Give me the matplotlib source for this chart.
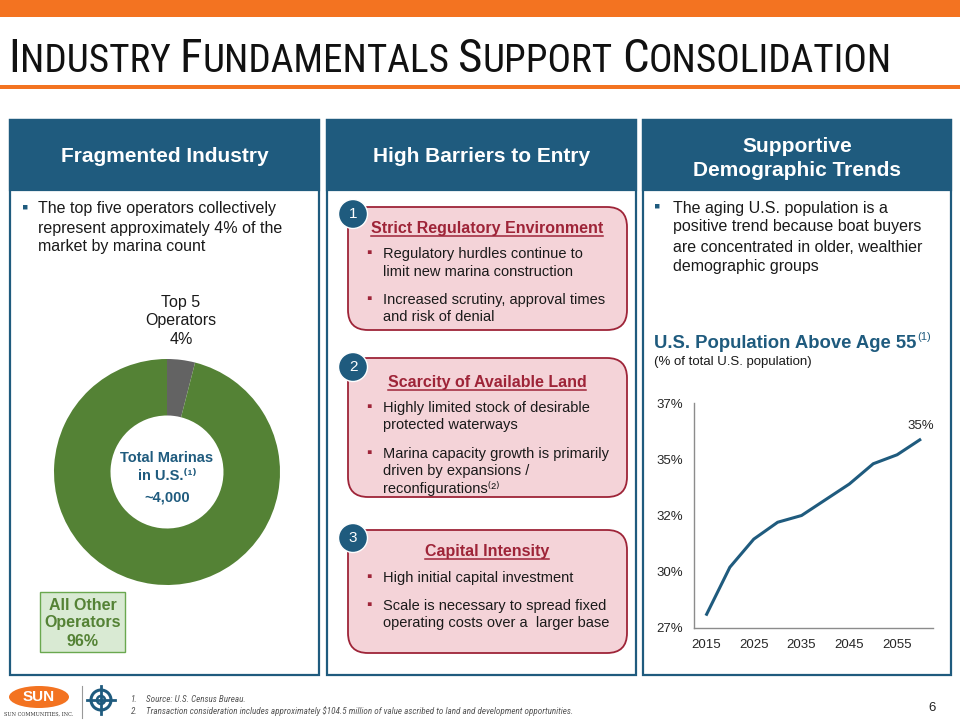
import matplotlib
matplotlib.use('Agg')
import matplotlib.pyplot as plt
from matplotlib.patches import Rectangle, FancyBboxPatch, Circle, Ellipse
from matplotlib import font_manager

# ---------------- data ----------------
donut_labels = ['Top 5 Operators', 'All Other Operators']
donut_values = [4, 96]
total_marinas = '~4,000'

years = [2015, 2020, 2025, 2030, 2035, 2040, 2045, 2050, 2055, 2060]
pop55_share = [28.05, 30.2, 31.45, 32.2, 32.5, 33.2, 33.9, 34.8, 35.2, 35.9]
y_ticks = [27.5, 30, 32.5, 35, 37.5]
y_tick_labels = ['27%', '30%', '32%', '35%', '37%']
x_ticks = [2015, 2025, 2035, 2045, 2055]
end_label = '35%'

# ---------------- fonts ----------------
names = {f.name for f in font_manager.fontManager.ttflist}
SANS = 'Liberation Sans' if 'Liberation Sans' in names else 'DejaVu Sans'
NARROW = SANS
for cand in ['Liberation Sans Narrow', 'Arial Narrow', 'Roboto Condensed', 'Archivo Narrow',
             'PT Sans Narrow', 'Open Sans Condensed', 'Fira Sans Condensed', 'IBM Plex Sans Condensed']:
    if cand in names:
        NARROW = cand
        break
FAM = [SANS, 'DejaVu Sans']
NFAM = [NARROW, 'DejaVu Sans']
plt.rcParams['font.family'] = FAM

BLUE = '#1F5B7E'
ORANGE = '#F37321'
GREEN = '#548235'
GRAY = '#636363'
PINK = '#F4D3D8'
RED = '#9E2438'
TXT = '#1A1A1A'

fig = plt.figure(figsize=(9.6, 7.2), dpi=100)
bg = fig.add_axes([0, 0, 1, 1])
bg.set_xlim(0, 960)
bg.set_ylim(720, 0)
bg.axis('off')
R = fig.canvas.get_renderer()


def width(t):
    return t.get_window_extent(R).width


def lines(x, ys, strs, **kw):
    for y, s in zip(ys, strs):
        bg.text(x, y, s, va='center', **kw)


# ---------------- top bar & title ----------------
bg.add_patch(Rectangle((0, 0), 960, 17, fc=ORANGE, ec='none'))
bg.add_patch(Rectangle((0, 85), 960, 4, fc=ORANGE, ec='none'))


def smallcaps(x, y, text, big, small, color, family):
    objs = []
    cur = x
    a = bg.text(0, -100, 'X X', fontsize=small, family=family)
    b = bg.text(0, -100, 'XX', fontsize=small, family=family)
    sp = width(a) - width(b)
    a.remove(); b.remove()
    for i, w in enumerate(text.split(' ')):
        if i > 0:
            cur += sp
        t1 = bg.text(cur, y, w[0], fontsize=big, family=family, color=color, va='baseline', ha='left')
        objs.append(t1)
        cur += width(t1)
        if len(w) > 1:
            t2 = bg.text(cur, y, w[1:].upper(), fontsize=small, family=family, color=color,
                         va='baseline', ha='left')
            objs.append(t2)
            cur += width(t2)
    return objs, cur - x


TITLE = 'Industry Fundamentals Support Consolidation'
objs, tw = smallcaps(8, 72, TITLE, 31, 26, '#111111', NFAM)
scale = min(1.15, max(0.85, 885 / tw))
if abs(scale - 1) > 0.01:
    for o in objs:
        o.remove()
    objs, tw = smallcaps(8, 72, TITLE, 31 * scale, 26 * scale, '#111111', NFAM)

# ---------------- panels ----------------
panels = [(10, 319), (327, 636), (643, 951)]
for x0, x1 in panels:
    bg.add_patch(Rectangle((x0, 120), x1 - x0, 555, fc='white', ec=BLUE, lw=1.6, zorder=1))
    bg.add_patch(Rectangle((x0, 120), x1 - x0, 70, fc=BLUE, ec=BLUE, lw=1.6, zorder=2))

hkw = dict(color='white', fontsize=15, fontweight='bold', ha='center', va='center', zorder=3)
bg.text(164.5, 157, 'Fragmented Industry', **hkw)
bg.text(481.5, 157, 'High Barriers to Entry', **hkw)
bg.text(797, 146, 'Supportive', **hkw)
bg.text(797, 170, 'Demographic Trends', **hkw)

# panel 1 bullet
bg.text(22, 208, '\u25aa', color=BLUE, fontsize=13, va='center', ha='left', family=FAM)
lines(38, [209, 228, 247], ['The top five operators collectively',
                            'represent approximately 4% of the',
                            'market by marina count'], fontsize=11.5, color=TXT, ha='left')

# donut
dax = fig.add_axes([54 / 960, 1 - 585 / 720, 226 / 960, 226 / 720])
dax.pie(donut_values, colors=[GRAY, GREEN], startangle=90, counterclock=False,
        radius=1, wedgeprops=dict(width=0.5, edgecolor='none'))
dax.set_xlim(-1, 1)
dax.set_ylim(-1, 1)
dax.set_aspect('equal')

top_lbl = donut_labels[0].rsplit(' ', 1)
lines(181, [302, 320, 339], [top_lbl[0], top_lbl[1], f'{donut_values[0]}%'],
      fontsize=11.5, color=TXT, ha='center')

lines(167, [458, 476, 497], ['Total Marinas', 'in U.S.\u207d\u00b9\u207e', total_marinas],
      fontsize=10.5, color=BLUE, fontweight='bold', ha='center')

bg.add_patch(Rectangle((40, 592), 85, 60, fc='#D9EAD3', ec='#6AA84F', lw=1, zorder=2))
oth = donut_labels[1].rsplit(' ', 1)
for y, s in zip([605, 623, 642], [oth[0], oth[1], f'{donut_values[1]}%']):
    bg.text(82.5, y, s, fontsize=11.5, color=GREEN, fontweight='bold', ha='center', va='center', zorder=3)

# ---------------- panel 2 boxes ----------------
boxes = [
    (207, 123, 214, '1', 228, 'Strict Regulatory Environment',
     [[254, 'Regulatory hurdles continue to'], [272, 'limit new marina construction'],
      [300, 'Increased scrutiny, approval times'], [317, 'and risk of denial']], [254, 300]),
    (358, 139, 367, '2', 382, 'Scarcity of Available Land',
     [[408, 'Highly limited stock of desirable'], [425, 'protected waterways'],
      [454, 'Marina capacity growth is primarily'], [471, 'driven by expansions /'],
      [488, 'reconfigurations\u207d\u00b2\u207e']], [408, 454]),
    (530, 123, 538, '3', 551, 'Capital Intensity',
     [[578, 'High initial capital investment'], [606, 'Scale is necessary to spread fixed'],
      [623, 'operating costs over a  larger base']], [578, 606]),
]
for top, h, cy, num, ty, title, blines, bys in boxes:
    bg.add_patch(FancyBboxPatch((348, top), 279, h, boxstyle='round,pad=0,rounding_size=20',
                                fc=PINK, ec=RED, lw=1.3, zorder=2))
    bg.add_patch(Circle((353, cy), 14.5, fc=BLUE, ec='white', lw=1, zorder=4))
    bg.text(353, cy, num, color='white', fontsize=11, ha='center', va='center', zorder=5)
    t = bg.text(487, ty + 5, title, color=RED, fontsize=11.5, fontweight='bold',
                ha='center', va='baseline', zorder=3)
    w = width(t)
    bg.plot([487 - w / 2, 487 + w / 2], [ty + 7.5, ty + 7.5], color=RED, lw=1.1, zorder=3)
    for y, s in blines:
        bg.text(383, y, s, fontsize=10.5, color=TXT, ha='left', va='center', zorder=3, family=FAM)
    for y in bys:
        bg.text(366, y - 1, '\u25aa', fontsize=11, color=RED, ha='left', va='center', zorder=3, family=FAM)

# ---------------- panel 3 ----------------
bg.text(654, 207, '\u25aa', color=BLUE, fontsize=13, va='center', ha='left', family=FAM)
lines(673, [208, 227, 247, 266], ['The aging U.S. population is a',
                                  'positive trend because boat buyers',
                                  'are concentrated in older, wealthier',
                                  'demographic groups'], fontsize=11.5, color=TXT, ha='left')
tt = bg.text(654, 343, 'U.S. Population Above Age 55', fontsize=13.3, fontweight='bold',
             color=BLUE, ha='left', va='center')
bg.text(654 + width(tt) + 1, 337, '(1)', fontsize=8, color=BLUE, ha='left', va='center')
bg.text(654, 362, '(% of total U.S. population)', fontsize=9.5, color=TXT, ha='left', va='center')

lax = fig.add_axes([694 / 960, 1 - 628 / 720, (933 - 694) / 960, (628 - 403) / 720])
lax.patch.set_alpha(0)
lax.plot(years, pop55_share, color=BLUE, lw=2.2, solid_capstyle='butt', solid_joinstyle='round')
lax.set_xlim(2012.5, 2062.5)
lax.set_ylim(27.5, 37.5)
lax.set_yticks(y_ticks)
lax.set_yticklabels(y_tick_labels)
lax.set_xticks(x_ticks)
lax.set_xticklabels([str(v) for v in x_ticks])
for s in ['top', 'right']:
    lax.spines[s].set_visible(False)
for s in ['left', 'bottom']:
    lax.spines[s].set_color('#8C8C8C')
    lax.spines[s].set_linewidth(1)
lax.tick_params(length=0, labelsize=9.5, pad=8, colors='#262626')
lax.annotate(end_label, (years[-1], pop55_share[-1]), xytext=(0, 5), textcoords='offset points',
             ha='center', va='bottom', fontsize=9.5, color='#262626')

# ---------------- footer ----------------
bg.add_patch(Ellipse((39, 697), 60, 22, fc=ORANGE, ec='none'))
bg.text(39, 697, 'SUN', color='white', fontsize=11, fontweight='bold', ha='center', va='center')
bg.text(39, 714, 'SUN COMMUNITIES, INC.', color='#333333', fontsize=3.6, ha='center', va='center',
        family='DejaVu Serif')
bg.plot([82, 82], [686, 718], color='#999999', lw=0.8)
bg.add_patch(Circle((101, 700), 10, fc='none', ec=BLUE, lw=2.2))
bg.add_patch(Circle((101, 700), 4, fc='none', ec=BLUE, lw=1.8))
for dx, dy in [(0, 14), (14, 0), (0, -14), (-14, 0)]:
    bg.plot([101, 101 + dx], [700, 700 + dy], color=BLUE, lw=2)

fkw = dict(fontsize=6.6, color='#555555', style='italic', ha='left', va='center', family=NFAM)
bg.text(131, 699, '1.', **fkw)
bg.text(146, 699, 'Source: U.S. Census Bureau.', **fkw)
bg.text(131, 711, '2.', **fkw)
bg.text(146, 711, 'Transaction consideration includes approximately $104.5 million of value ascribed to land and development opportunities.', **fkw)
bg.text(932, 708, '6', fontsize=9.5, color='#222222', ha='center', va='center')

fig.savefig('out.png', dpi=100)
